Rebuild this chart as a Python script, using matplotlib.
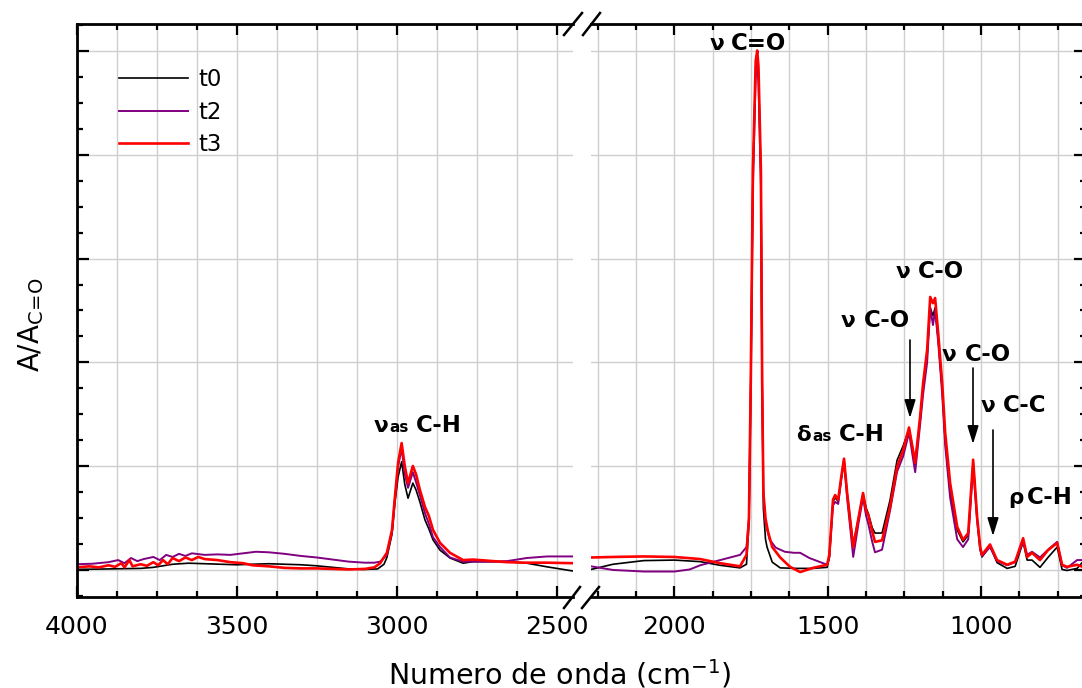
import numpy as np
import matplotlib
matplotlib.use("Agg")
import matplotlib.pyplot as plt
from matplotlib.ticker import MultipleLocator, NullFormatter
from matplotlib.lines import Line2D

plt.rcParams['font.family'] = ['DejaVu Sans']
plt.rcParams['mathtext.fontset'] = 'dejavusans'

nan = np.nan
# ---------------- data (wavenumber cm-1, normalised absorbance) ----------------
t0_wn = [4000, 3900, 3800, 3760, 3700, 3650, 3600, 3550, 3500, 3450, 3400, 3350, 3300, 3250, 3200,
         3150, 3100, 3060, 3040, 3031, 3015, 3006, 2996, 2985, 2975, 2965, 2950, 2940, 2928, 2912,
         2900, 2887, 2865, 2834, 2793, 2762, 2700, 2656, 2594, 2531, 2450, nan,
         2272, 2200, 2100, 2000, 1916, 1851, 1786, 1765, 1757, 1751, 1744, 1735, 1730, 1726, 1718,
         1714, 1710, 1703, 1698, 1681, 1655, 1600, 1550, 1502, 1495, 1483, 1476, 1466, 1456, 1447,
         1437, 1417, 1400, 1385, 1375, 1368, 1355, 1346, 1323, 1297, 1274, 1254, 1235, 1215, 1199,
         1189, 1176, 1166, 1157, 1150, 1140, 1127, 1117, 1101, 1078, 1059, 1042, 1026, 1013, 1003,
         997, 971, 948, 915, 889, 863, 850, 834, 808, 782, 752, 736, 720, 687, 660]
t0_abs = [0.002, 0.003, 0.004, 0.006, 0.012, 0.014, 0.013, 0.012, 0.011, 0.012, 0.013, 0.012, 0.011, 0.009, 0.006,
          0.003, 0.002, 0.003, 0.012, 0.025, 0.070, 0.130, 0.180, 0.209, 0.165, 0.139, 0.168, 0.155, 0.132, 0.097,
          0.080, 0.059, 0.039, 0.024, 0.014, 0.017, 0.017, 0.017, 0.014, 0.007, -0.001, nan,
          0.002, 0.012, 0.019, 0.020, 0.017, 0.010, 0.005, 0.012, 0.090, 0.360, 0.760, 0.970, 0.990, 0.960, 0.760,
          0.360, 0.120, 0.060, 0.045, 0.016, 0.005, 0.004, 0.004, 0.006, 0.025, 0.132, 0.140, 0.133, 0.178, 0.213,
          0.150, 0.050, 0.100, 0.147, 0.120, 0.110, 0.082, 0.072, 0.072, 0.135, 0.212, 0.240, 0.272, 0.210, 0.290,
          0.355, 0.415, 0.505, 0.490, 0.505, 0.445, 0.350, 0.250, 0.150, 0.078, 0.055, 0.068, 0.210, 0.100, 0.040,
          0.026, 0.047, 0.015, 0.004, 0.008, 0.055, 0.020, 0.020, 0.006, 0.025, 0.045, 0.002, 0.000, 0.004, 0.022]

t2_wn = [4000, 3950, 3900, 3870, 3850, 3830, 3810, 3790, 3760, 3740, 3720, 3700, 3680, 3660, 3640,
         3600, 3560, 3520, 3480, 3440, 3400, 3350, 3300, 3250, 3200, 3150, 3100, 3070, 3052, 3031,
         3015, 3006, 2996, 2985, 2975, 2965, 2950, 2940, 2928, 2912, 2900, 2887, 2865, 2834, 2793,
         2762, 2700, 2656, 2594, 2531, 2450, nan,
         2272, 2200, 2100, 2000, 1950, 1916, 1851, 1786, 1765, 1757, 1751, 1744, 1735, 1730, 1726,
         1718, 1714, 1710, 1705, 1690, 1670, 1640, 1610, 1590, 1560, 1515, 1502, 1495, 1483, 1476,
         1466, 1456, 1447, 1437, 1417, 1400, 1385, 1375, 1368, 1355, 1346, 1323, 1297, 1274, 1254,
         1235, 1215, 1199, 1189, 1176, 1166, 1157, 1150, 1140, 1127, 1117, 1101, 1078, 1059, 1042,
         1026, 1013, 1003, 997, 971, 948, 915, 889, 863, 850, 834, 808, 782, 752, 736, 720, 687, 660]
t2_abs = [0.012, 0.013, 0.016, 0.020, 0.014, 0.024, 0.018, 0.022, 0.026, 0.020, 0.030, 0.026, 0.032, 0.028, 0.033,
          0.030, 0.031, 0.030, 0.033, 0.036, 0.035, 0.032, 0.028, 0.025, 0.021, 0.017, 0.015, 0.015, 0.017, 0.030,
          0.075, 0.138, 0.200, 0.235, 0.185, 0.159, 0.189, 0.170, 0.145, 0.110, 0.090, 0.064, 0.045, 0.025, 0.017,
          0.017, 0.017, 0.018, 0.024, 0.027, 0.027, nan,
          0.008, 0.001, -0.002, -0.002, 0.002, 0.010, 0.020, 0.030, 0.045, 0.100, 0.350, 0.740, 0.950, 0.970, 0.940,
          0.740, 0.360, 0.160, 0.097, 0.060, 0.044, 0.036, 0.034, 0.034, 0.024, 0.014, 0.011, 0.025, 0.125, 0.132,
          0.128, 0.175, 0.210, 0.140, 0.026, 0.090, 0.140, 0.105, 0.090, 0.055, 0.035, 0.040, 0.115, 0.190, 0.220,
          0.265, 0.189, 0.280, 0.340, 0.400, 0.506, 0.472, 0.500, 0.440, 0.340, 0.240, 0.140, 0.060, 0.045, 0.060,
          0.200, 0.095, 0.040, 0.028, 0.045, 0.018, 0.010, 0.016, 0.055, 0.030, 0.036, 0.025, 0.040, 0.055, 0.010,
          0.005, 0.020, 0.020]

t3_wn = [4000, 3960, 3930, 3900, 3880, 3860, 3850, 3835, 3825, 3800, 3780, 3760, 3745, 3730, 3715,
         3700, 3680, 3660, 3640, 3620, 3600, 3560, 3520, 3480, 3450, 3400, 3350, 3300, 3250, 3200,
         3150, 3100, 3070, 3052, 3031, 3015, 3006, 2996, 2985, 2975, 2965, 2950, 2940, 2928, 2912,
         2900, 2887, 2865, 2834, 2793, 2762, 2700, 2656, 2594, 2531, 2450, nan,
         2272, 2200, 2100, 2000, 1916, 1851, 1786, 1765, 1757, 1751, 1744, 1735, 1730, 1726, 1718,
         1714, 1710, 1703, 1695, 1681, 1655, 1623, 1590, 1548, 1502, 1495, 1483, 1476, 1466, 1456,
         1447, 1437, 1417, 1400, 1385, 1375, 1368, 1355, 1346, 1323, 1297, 1274, 1254, 1235, 1215,
         1199, 1189, 1176, 1166, 1157, 1150, 1140, 1127, 1117, 1101, 1078, 1059, 1042, 1026, 1013,
         1003, 997, 971, 948, 915, 889, 863, 850, 834, 808, 782, 752, 736, 720, 687, 660]
t3_abs = [0.006, 0.008, 0.006, 0.010, 0.007, 0.014, 0.006, 0.020, 0.008, 0.012, 0.009, 0.016, 0.010, 0.020, 0.012,
          0.024, 0.018, 0.025, 0.020, 0.026, 0.022, 0.020, 0.016, 0.014, 0.010, 0.008, 0.005, 0.004, 0.004, 0.003,
          0.002, 0.003, 0.006, 0.014, 0.034, 0.078, 0.141, 0.207, 0.245, 0.200, 0.168, 0.201, 0.185, 0.155, 0.122,
          0.105, 0.078, 0.053, 0.034, 0.020, 0.021, 0.018, 0.016, 0.015, 0.015, 0.014, nan,
          0.025, 0.026, 0.027, 0.026, 0.022, 0.014, 0.008, 0.030, 0.100, 0.370, 0.770, 0.980, 1.000, 0.970, 0.770,
          0.370, 0.150, 0.100, 0.075, 0.045, 0.025, 0.007, -0.003, 0.005, 0.011, 0.030, 0.136, 0.145, 0.136, 0.180,
          0.215, 0.150, 0.045, 0.100, 0.149, 0.115, 0.107, 0.075, 0.055, 0.058, 0.122, 0.199, 0.232, 0.275, 0.207,
          0.295, 0.361, 0.424, 0.526, 0.514, 0.524, 0.457, 0.361, 0.264, 0.168, 0.084, 0.059, 0.072, 0.213, 0.103,
          0.045, 0.030, 0.050, 0.020, 0.011, 0.017, 0.062, 0.026, 0.034, 0.020, 0.039, 0.053, 0.011, 0.007, 0.011,
          0.005]

series_labels = ["t0", "t2", "t3"]
series_colors = ["#000000", "#800080", "#ff0000"]
series_widths = [1.2, 1.4, 1.9]

left_range = (4000, 2450)
right_range = (2272, 658)

# ---------------- layout ----------------
W, H = 1082, 688
fig = plt.figure(figsize=(W / 100, H / 100), dpi=100)
y_top, y_bot = 24, 597
ax1 = fig.add_axes([76.5 / W, 1 - y_bot / H, (573 - 76.5) / W, (y_bot - y_top) / H])
ax2 = fig.add_axes([591 / W, 1 - y_bot / H, (1086 - 591) / W, (y_bot - y_top) / H])

series = [(t0_wn, t0_abs), (t2_wn, t2_abs), (t3_wn, t3_abs)]
for ax, xr in ((ax1, left_range), (ax2, right_range)):
    for (wn, ab), lab, c, lw in zip(series, series_labels, series_colors, series_widths):
        ax.plot(wn, ab, color=c, lw=lw, label=lab, solid_joinstyle='round')
    ax.set_xlim(*xr)
    ax.set_ylim(-0.051, 1.051)
    ax.xaxis.set_major_locator(MultipleLocator(500))
    ax.xaxis.set_minor_locator(MultipleLocator(125))
    ax.yaxis.set_major_locator(MultipleLocator(0.2))
    ax.yaxis.set_minor_locator(MultipleLocator(0.05))
    ax.yaxis.set_major_formatter(NullFormatter())
    ax.grid(which='both', axis='x', color='#cfcfcf', lw=1.0)
    ax.grid(which='major', axis='y', color='#cfcfcf', lw=1.0)
    ax.set_axisbelow(True)
    ax.tick_params(which='both', direction='in', top=True, bottom=True, width=1.6,
                   labelsize=18, pad=13, labelleft=False, labelright=False)
    ax.tick_params(which='major', length=8)
    ax.tick_params(which='minor', length=4)
    for s in ax.spines.values():
        s.set_linewidth(2.0)

ax1.spines['right'].set_visible(False)
ax1.tick_params(which='both', left=True, right=False)
ax1.tick_params(which='major', axis='y', length=8.6)
ax2.spines['left'].set_visible(False)
ax2.tick_params(which='both', left=False, right=True)
ax2.tick_params(which='major', axis='y', length=8.6)

# break marks
def fig_line(x0, y0, x1, y1, lw=1.8):
    fig.add_artist(Line2D([x0 / W, x1 / W], [1 - y0 / H, 1 - y1 / H], color='k', lw=lw,
                          transform=fig.transFigure))

fig_line(564, 608, 580, 587)
fig_line(582, 608, 599, 587)
fig_line(564, 35, 582, 13)
fig_line(583, 35, 600, 13)

# legend
handles = [Line2D([], [], color=c, lw=lw) for c, lw in zip(series_colors, series_widths)]
fig.legend(handles, series_labels, loc='upper left', bbox_to_anchor=(119 / W, 1 - 68 / H),
           bbox_transform=fig.transFigure, frameon=False, fontsize=16.5, borderpad=0,
           borderaxespad=0, handlelength=3.0, handletextpad=0.45, labelspacing=0.42)

# axis labels
fig.text(560 / W, 1 - 684 / H, r"Numero de onda (cm$^{-1}$)", fontsize=20.5, ha='center', va='baseline')
fig.text(31.5 / W, 1 - 325 / H, r"A/A$_{\mathrm{C\!=\!O}}$", fontsize=20, rotation=90,
         ha='center', va='center')

# annotations (pixel placement)
def ptext(x, y, s, size=16.5):
    fig.text(x / W, 1 - y / H, s, fontsize=size, fontweight='bold', ha='left', va='baseline')

ptext(710, 50, "ν", 15.5)
ptext(731, 50, "C=O")
ptext(896, 278, "ν", 15.5)
ptext(918, 278, "C-O")
ptext(841, 327, "ν", 15.5)
ptext(864, 327, "C-O")
ptext(942, 361, "ν", 15.5)
ptext(965, 361, "C-O")
ptext(981, 412, "ν", 15.5)
ptext(1003, 412, "C-C")
ptext(1008, 504, "ρ", 15.5)
ptext(1027, 504, "C-H")
ptext(796, 441, "δ", 15.5)
ptext(812, 441, "as", 11)
ptext(839, 441, "C-H")
ptext(374, 432, "ν", 15.5)
ptext(389, 432, "as", 11)
ptext(416, 432, "C-H")

def arrow(x, y0, y1):
    fig.add_artist(matplotlib.patches.FancyArrowPatch(
        (x / W, 1 - y0 / H), (x / W, 1 - y1 / H), transform=fig.transFigure,
        arrowstyle='-|>,head_length=0.55,head_width=0.17', mutation_scale=20,
        color='k', lw=1.2, shrinkA=0, shrinkB=0))

arrow(910, 340, 418)
arrow(973, 368, 444)
arrow(993, 430, 536)

fig.savefig("out.png", dpi=100)
